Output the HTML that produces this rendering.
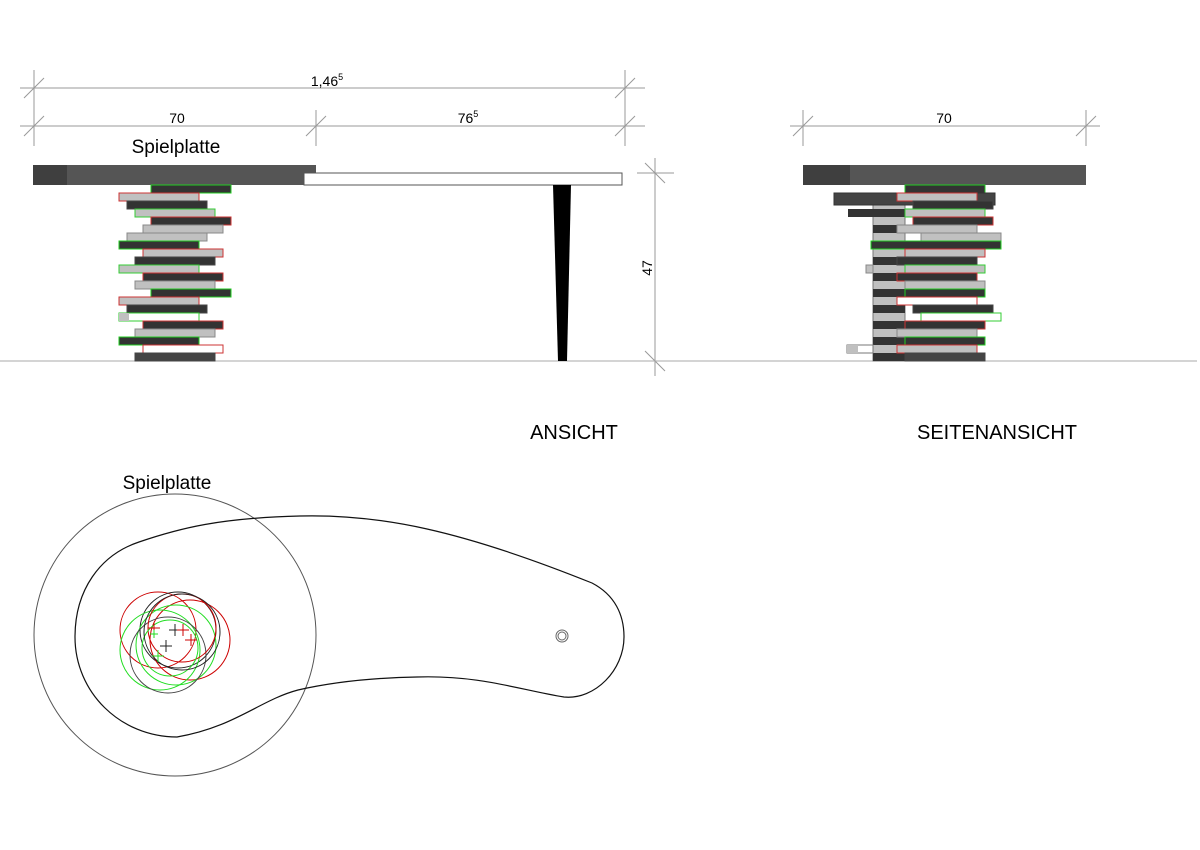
<!DOCTYPE html>
<html><head><meta charset="utf-8"><style>
html,body{margin:0;padding:0;background:#fff;}
svg{display:block;font-family:"Liberation Sans",sans-serif;}
</style></head><body>
<svg width="1200" height="850" viewBox="0 0 1200 850" xmlns="http://www.w3.org/2000/svg">
<rect width="1200" height="850" fill="#fff"/>
<!-- dimension lines -->
<g stroke="#999" stroke-width="1" fill="none">
<line x1="20" y1="88" x2="645" y2="88"/>
<line x1="20" y1="126" x2="645" y2="126"/>
<line x1="34" y1="70" x2="34" y2="146"/>
<line x1="316" y1="110" x2="316" y2="146"/>
<line x1="625" y1="70" x2="625" y2="146"/>
<line x1="24" y1="98" x2="44" y2="78"/><line x1="615" y1="98" x2="635" y2="78"/>
<line x1="24" y1="136" x2="44" y2="116"/><line x1="306" y1="136" x2="326" y2="116"/><line x1="615" y1="136" x2="635" y2="116"/>
<line x1="655" y1="158" x2="655" y2="376"/>
<line x1="637" y1="173" x2="674" y2="173"/><line x1="645" y1="163" x2="665" y2="183"/>
<line x1="637" y1="361" x2="674" y2="361"/><line x1="645" y1="351" x2="665" y2="371"/>
<line x1="790" y1="126" x2="1100" y2="126"/>
<line x1="803" y1="110" x2="803" y2="146"/><line x1="1086" y1="110" x2="1086" y2="146"/>
<line x1="793" y1="136" x2="813" y2="116"/><line x1="1076" y1="136" x2="1096" y2="116"/>
</g>
<line x1="0" y1="361" x2="1197" y2="361" stroke="#aaa" stroke-width="1"/>
<g font-size="14" fill="#000" text-anchor="middle">
<text x="327" y="86">1,46<tspan font-size="9" dy="-6">5</tspan></text>
<text x="177" y="123">70</text>
<text x="468" y="123">76<tspan font-size="9" dy="-6">5</tspan></text>
<text x="944" y="123">70</text>
<text transform="translate(652,268) rotate(-90)">47</text>
</g>
<text x="176" y="153" font-size="19" text-anchor="middle">Spielplatte</text>
<text x="574" y="439" font-size="20" text-anchor="middle">ANSICHT</text>
<text x="997" y="439" font-size="20" text-anchor="middle">SEITENANSICHT</text>
<text x="167" y="489" font-size="19" text-anchor="middle">Spielplatte</text>
<!-- front view -->
<rect x="33" y="165" width="283" height="20" fill="#555"/>
<rect x="33" y="165" width="34" height="20" fill="#3f3f3f"/>
<rect x="304" y="173" width="318" height="12" fill="#fff" stroke="#555" stroke-width="1"/>
<polygon points="553,185 571,185 567,361 558,361" fill="#000"/>
<g stroke-width="1">
<rect x="151" y="185" width="80" height="8" fill="#333" stroke="#2c2"/>
<rect x="119" y="193" width="80" height="8" fill="#c0c0c0" stroke="#c33"/>
<rect x="127" y="201" width="80" height="8" fill="#333" stroke="#444"/>
<rect x="135" y="209" width="80" height="8" fill="#c0c0c0" stroke="#3c3"/>
<rect x="151" y="217" width="80" height="8" fill="#333" stroke="#c33"/>
<rect x="143" y="225" width="80" height="8" fill="#c0c0c0" stroke="#888"/>
<rect x="127" y="233" width="80" height="8" fill="#c0c0c0" stroke="#888"/>
<rect x="119" y="241" width="80" height="8" fill="#333" stroke="#2c2"/>
<rect x="143" y="249" width="80" height="8" fill="#c0c0c0" stroke="#c33"/>
<rect x="135" y="257" width="80" height="8" fill="#333" stroke="#444"/>
<rect x="119" y="265" width="80" height="8" fill="#c0c0c0" stroke="#3c3"/>
<rect x="143" y="273" width="80" height="8" fill="#333" stroke="#c33"/>
<rect x="135" y="281" width="80" height="8" fill="#c0c0c0" stroke="#888"/>
<rect x="151" y="289" width="80" height="8" fill="#333" stroke="#2c2"/>
<rect x="119" y="297" width="80" height="8" fill="#c0c0c0" stroke="#c33"/>
<rect x="127" y="305" width="80" height="8" fill="#333" stroke="#444"/>
<rect x="119" y="313" width="80" height="8" fill="#fff" stroke="#3c3"/>
<rect x="119" y="313" width="10" height="8" fill="#c0c0c0"/>
<rect x="143" y="321" width="80" height="8" fill="#333" stroke="#c33"/>
<rect x="135" y="329" width="80" height="8" fill="#c0c0c0" stroke="#888"/>
<rect x="119" y="337" width="80" height="8" fill="#333" stroke="#2c2"/>
<rect x="143" y="345" width="80" height="8" fill="#fff" stroke="#c33"/>
<rect x="135" y="353" width="80" height="8" fill="#444" stroke="#444"/>
</g>
<!-- side view -->
<rect x="803" y="165" width="283" height="20" fill="#555"/>
<rect x="803" y="165" width="47" height="20" fill="#3f3f3f"/>
<g stroke-width="1">
<rect x="873" y="205" width="32" height="156" fill="#c0c0c0" stroke="#777"/>
<rect x="873" y="225" width="32" height="8" fill="#333"/>
<rect x="873" y="241" width="32" height="8" fill="#333"/>
<rect x="873" y="257" width="32" height="8" fill="#333"/>
<rect x="873" y="273" width="32" height="8" fill="#333"/>
<rect x="873" y="289" width="32" height="8" fill="#333"/>
<rect x="873" y="305" width="32" height="8" fill="#333"/>
<rect x="873" y="321" width="32" height="8" fill="#333"/>
<rect x="873" y="337" width="32" height="8" fill="#333"/>
<rect x="873" y="353" width="32" height="8" fill="#333"/>
<rect x="905" y="185" width="80" height="8" fill="#333" stroke="#2c2"/>
<rect x="834" y="193" width="161" height="12" fill="#444" stroke="#333"/>
<rect x="897" y="193" width="80" height="8" fill="#c0c0c0" stroke="#c33"/>
<rect x="913" y="201" width="80" height="8" fill="#333" stroke="#444"/>
<rect x="848" y="209" width="57" height="8" fill="#333"/>
<rect x="905" y="209" width="80" height="8" fill="#c0c0c0" stroke="#3c3"/>
<rect x="913" y="217" width="80" height="8" fill="#333" stroke="#c33"/>
<rect x="897" y="225" width="80" height="8" fill="#c0c0c0" stroke="#888"/>
<rect x="921" y="233" width="80" height="8" fill="#c0c0c0" stroke="#888"/>
<rect x="871" y="241" width="130" height="8" fill="#333" stroke="#2c2"/>
<rect x="905" y="249" width="80" height="8" fill="#c0c0c0" stroke="#c33"/>
<rect x="897" y="257" width="80" height="8" fill="#333" stroke="#444"/>
<rect x="866" y="265" width="7" height="8" fill="#c0c0c0" stroke="#888"/>
<rect x="905" y="265" width="80" height="8" fill="#c0c0c0" stroke="#3c3"/>
<rect x="897" y="273" width="80" height="8" fill="#333" stroke="#c33"/>
<rect x="905" y="281" width="80" height="8" fill="#c0c0c0" stroke="#888"/>
<rect x="905" y="289" width="80" height="8" fill="#333" stroke="#2c2"/>
<rect x="897" y="297" width="80" height="8" fill="#fff" stroke="#c33"/>
<rect x="913" y="305" width="80" height="8" fill="#333" stroke="#444"/>
<rect x="921" y="313" width="80" height="8" fill="#fff" stroke="#3c3"/>
<rect x="905" y="321" width="80" height="8" fill="#333" stroke="#c33"/>
<rect x="897" y="329" width="80" height="8" fill="#c0c0c0" stroke="#888"/>
<rect x="905" y="337" width="80" height="8" fill="#333" stroke="#2c2"/>
<rect x="847" y="345" width="26" height="8" fill="#fff" stroke="#777"/>
<rect x="847" y="345" width="11" height="8" fill="#c0c0c0"/>
<rect x="897" y="345" width="80" height="8" fill="#c0c0c0" stroke="#c33"/>
<rect x="905" y="353" width="80" height="8" fill="#444" stroke="#444"/>
</g>
<!-- plan view -->
<circle cx="175" cy="635" r="141" fill="none" stroke="#555" stroke-width="1"/>
<path d="M177,737 C120,737 75,692 75,637 C75,590 100,555 139,542 C180,528 220,518 300,516 C380,514 460,530 592,583 C615,595 624,615 624,637 C624,670 595,700 564,697 C520,690 480,675 417,677 C360,678 320,685 298,690 C260,700 235,727 177,737 Z" fill="none" stroke="#111" stroke-width="1.2"/>
<circle cx="562" cy="636" r="6" fill="none" stroke="#666"/>
<circle cx="562" cy="636" r="4" fill="none" stroke="#666"/>
<g fill="none" stroke-width="1">
<circle cx="158" cy="630" r="38" stroke="#c00"/>
<circle cx="178" cy="630" r="38" stroke="#222"/>
<circle cx="190" cy="640" r="40" stroke="#c00"/>
<circle cx="160" cy="650" r="40" stroke="#2d2"/>
<circle cx="176" cy="645" r="40" stroke="#2d2"/>
<circle cx="168" cy="655" r="38" stroke="#444"/>
<circle cx="182" cy="628" r="34" stroke="#c00"/>
<circle cx="170" cy="648" r="28" stroke="#2d2"/>
<circle cx="182" cy="632" r="38" stroke="#222"/>
</g>
<g stroke-width="1">
<path d="M154,622v12M148,628h12" stroke="#c00"/>
<path d="M175,624v12M169,630h12" stroke="#222"/>
<path d="M183,624v12M177,630h12" stroke="#c00"/>
<path d="M166,640v12M160,646h12" stroke="#222"/>
<path d="M191,634v12M185,640h12" stroke="#c00"/>
<path d="M158,650v12M152,656h12" stroke="#2d2"/>
<path d="M154,630v8M150,634h8" stroke="#2d2"/>
</g>
</svg>
</body></html>
